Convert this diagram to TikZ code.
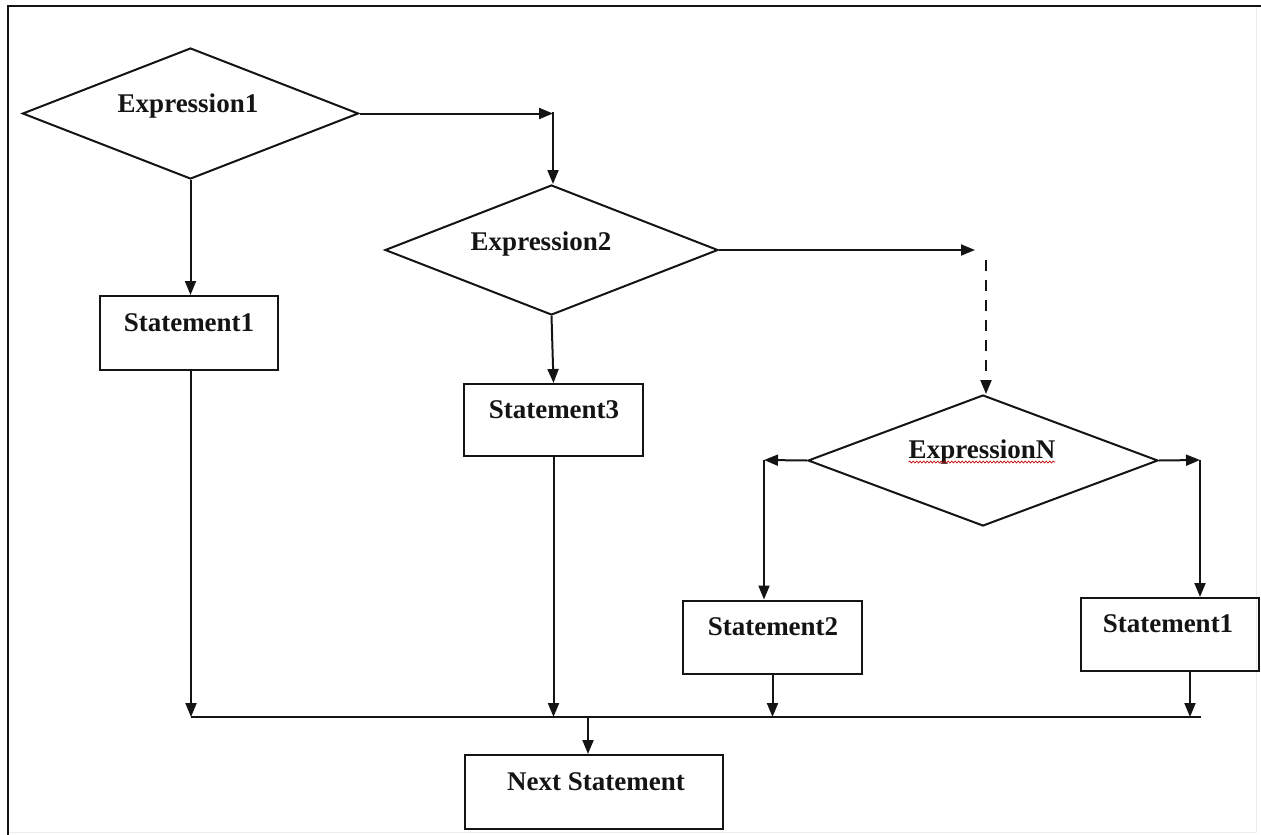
\documentclass[tikz,border=0pt]{standalone}
\usepackage{fontspec}
\setmainfont{Liberation Serif}
\usetikzlibrary{shapes.geometric,arrows.meta,decorations.pathmorphing}
\definecolor{ink}{HTML}{141414}
\begin{document}
\begin{tikzpicture}[x=1pt,y=-1pt,
  decision/.style={draw=ink, diamond, shape aspect=2.5, inner sep=0pt, line width=2pt},
  stmt/.style={draw=ink, rectangle, inner sep=0pt, line width=2pt},
  lbl/.style={font=\fontsize{27}{30}\selectfont\bfseries, text=ink, inner sep=0pt, anchor=base},
  flow/.style={draw=ink, line width=2pt, -{Triangle[length=14pt,width=11pt]}},
  plain/.style={draw=ink, line width=2pt},
]
\useasboundingbox (0,0) rectangle (1261,835);

% page frame
\draw[gray!15, line width=1pt] (8,6) rectangle (1256,832);
\draw[ink, line width=2.2pt] (8,835) -- (8,6) -- (1261,6);

% decisions
\node[decision, minimum width=336pt, minimum height=131pt] (d1) at (190.5,113.5) {};
\node[decision, minimum width=333pt, minimum height=130pt] (d2) at (551.5,250) {};
\node[decision, minimum width=350pt, minimum height=131pt] (dN) at (983,460.5) {};

% statements
\node[stmt, minimum width=178pt, minimum height=74pt] (s1) at (189,333) {};
\node[stmt, minimum width=179pt, minimum height=72pt] (s3) at (553.5,420) {};
\node[stmt, minimum width=179pt, minimum height=73pt] (s2) at (772.5,637) {};
\node[stmt, minimum width=178pt, minimum height=73pt] (s1r) at (1170,634.5) {};
\node[stmt, minimum width=258pt, minimum height=74pt] (nx) at (594,792) {};

% labels
\node[lbl] (te1) at (188,112) {Expression1};
\node[lbl] (te2) at (541,250) {Expression2};
\node[lbl] (teN) at (982,458) {ExpressionN};
\node[lbl] (ts1) at (189,331) {Statement1};
\node[lbl] (ts3) at (554,418) {Statement3};
\node[lbl] (ts2) at (773,635) {Statement2};
\node[lbl] (ts1r) at (1168,632) {Statement1};
\node[lbl] (tnx) at (596,790) {Next Statement};

% spell-check underline
\draw[red!75!black, line width=0.7pt, decorate,
      decoration={snake, amplitude=0.9pt, segment length=3.5pt}]
  ([yshift=-4pt]teN.base west) -- ([yshift=-4pt]teN.base east);

% junction points
\coordinate (j1) at (553,112);
\coordinate (j2) at (975,249);
\coordinate (j2b) at (986,260);
\coordinate (jL) at (764,460);
\coordinate (jR) at (1200,460);
\coordinate (busL) at (191,717);
\coordinate (busR) at (1201,717);
\coordinate (t1) at (1190,717);
\coordinate (bn) at (588,717);

% Expression1 branches
\draw[flow] (d1.east) -- (d1.east -| j1);
\draw[flow] (j1) -- (j1 |- d2.north);
\draw[flow] (d1.south) -- (d1.south |- s1.north);

% Expression2 branches
\draw[flow] (d2.east) -- (d2.east -| j2);
\draw[flow, dash pattern=on 11pt off 9pt] (j2b) -- (j2b |- dN.north);
\draw[flow] (d2.south) -- (s3.north);

% ExpressionN branches
\draw[flow] (dN.west) -- (jL);
\draw[flow] (jL) -- (jL |- s2.north);
\draw[flow] (dN.east) -- (jR);
\draw[flow] (jR) -- (jR |- s1r.north);

% merge into the bus
\draw[plain] (busL) -- (busR);
\draw[flow] (busL |- s1.south) -- (busL);
\draw[flow] (s3.south) -- (s3.south |- busL);
\draw[flow] (s2.south) -- (s2.south |- busL);
\draw[flow] (t1 |- s1r.south) -- (t1);
\draw[flow] (bn) -- (bn |- nx.north);
\end{tikzpicture}
\end{document}
